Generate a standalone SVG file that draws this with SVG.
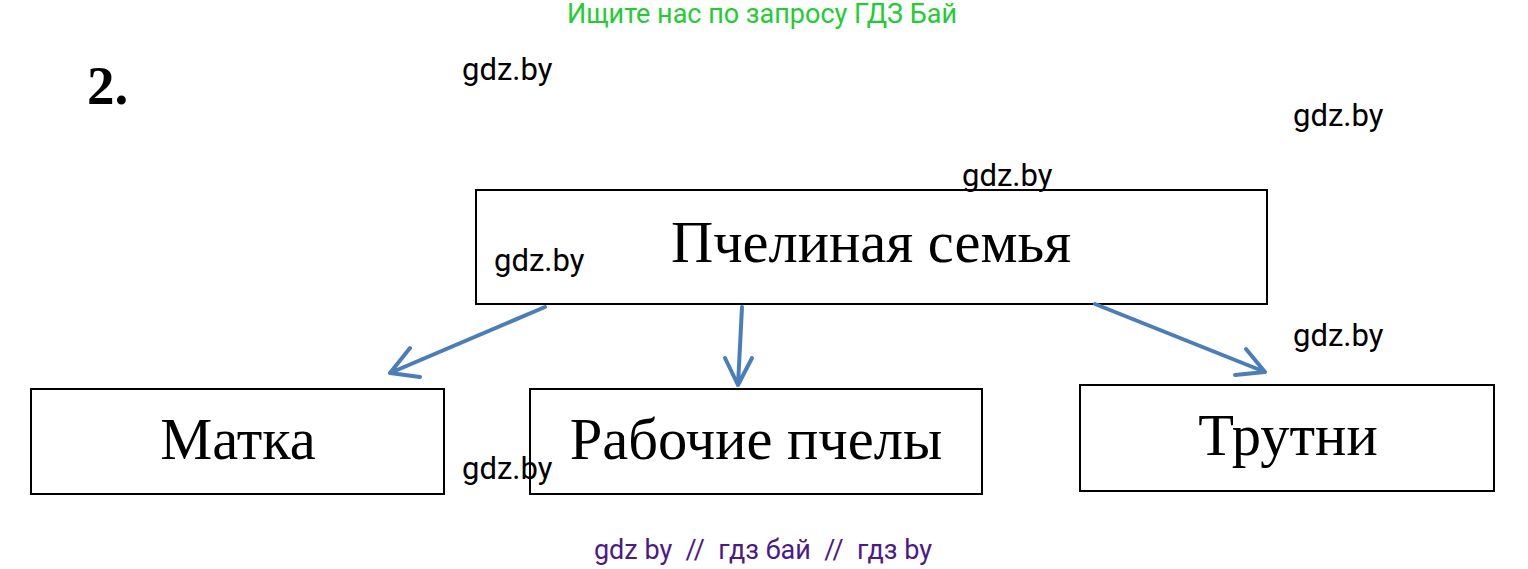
<svg xmlns="http://www.w3.org/2000/svg" width="1528" height="569" viewBox="0 0 1528 569">
<style>
.box{fill:#fff;stroke:#000;stroke-width:2}
.lbl{font-family:"Liberation Serif","Times New Roman",serif;font-size:58.5px;fill:#000;text-anchor:middle}
.wm{font-family:Roboto,"Liberation Sans",sans-serif;font-size:31px;fill:#000}
.arr{fill:none;stroke:#4a7ebb;stroke-width:4;stroke-linecap:round;stroke-linejoin:round}
</style>
<rect width="1528" height="569" fill="#fff"/>
<text x="762" y="23" font-family="Roboto,'Liberation Sans',sans-serif" font-size="27" fill="#22cc33" text-anchor="middle">Ищите нас по запросу ГДЗ Бай</text>
<text x="87" y="104" font-family="'Liberation Serif','Times New Roman',serif" font-size="55" font-weight="bold" fill="#000">2.</text>
<g id="n-family"><rect class="box" x="476" y="190" width="791" height="114"/><text class="lbl" x="871" y="262">Пчелиная семья</text></g>
<g id="n-queen"><rect class="box" x="31" y="389" width="413" height="105"/><text class="lbl" x="238" y="459">Матка</text></g>
<g id="n-workers"><rect class="box" x="530" y="389" width="452" height="105"/><text class="lbl" x="756" y="459">Рабочие пчелы</text></g>
<g id="n-drones"><rect class="box" x="1080" y="385" width="414" height="106"/><text class="lbl" x="1288" y="455">Трутни</text></g>
<g id="connectors">
<path class="arr" d="M545,307 L390,373 M410,348 L390,373 L420,377"/>
<path class="arr" d="M742,307 L738,385 M725,358 L738,385 L752,358"/>
<path class="arr" d="M1095,304 L1265,372 M1246,349 L1265,372 L1235,375"/>
</g>
<g id="watermarks">
<text class="wm" x="462" y="80">gdz.by</text>
<text class="wm" x="1293" y="126">gdz.by</text>
<text class="wm" x="962" y="186">gdz.by</text>
<text class="wm" x="494" y="271">gdz.by</text>
<text class="wm" x="1293" y="346">gdz.by</text>
<text class="wm" x="462" y="479">gdz.by</text>
</g>
<text x="763" y="559" font-family="Roboto,'Liberation Sans',sans-serif" font-size="27" fill="#4b1a8a" text-anchor="middle" xml:space="preserve">gdz by  //  гдз бай  //  гдз by</text>
</svg>
